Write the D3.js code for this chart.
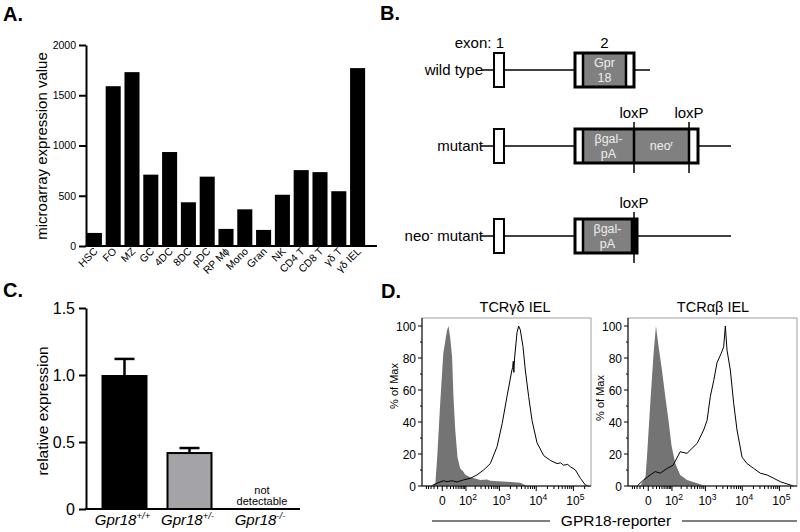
<!DOCTYPE html>
<html><head><meta charset="utf-8">
<script src="https://cdn.jsdelivr.net/npm/d3@7"></script>
<style>body{margin:0;background:#fff}svg{font-family:"Liberation Sans",Arial,Helvetica,sans-serif}</style>
</head><body><svg id="c" width="800" height="532"></svg>
<script>
// ---------- Panel A data ----------
const cellTypes = ["HSC","FO","MZ","GC","4DC","8DC","pDC","RP M\u03D5","Mono","Gran","NK","CD4 T","CD8 T","\u03B3\u03B4 T","\u03B3\u03B4 IEL"];
const microarrayValues = [130,1590,1730,710,935,435,690,170,365,160,510,755,735,545,1770];
const panelATicks = [0,500,1000,1500,2000];

// ---------- Panel B data (schematic units) ----------
const constructNames = ["wild type","mutant","neo^{-} mutant"];
const intronEnds = [156,237,237];
const exon1Span = [0,10];
const exon2Segments = [
  [{from:81,to:89,type:"utr"},{from:89,to:132,type:"cds",label:["Gpr","18"]},{from:132,to:140,type:"utr"}],
  [{from:81,to:89,type:"utr"},{from:89,to:140,type:"cds",label:["\u03B2gal-","pA"]},{from:140,to:195,type:"cds",label:["neo^{r}"]},{from:195,to:204,type:"utr"}],
  [{from:81,to:89,type:"utr"},{from:89,to:138,type:"cds",label:["\u03B2gal-","pA"]},{from:138,to:143,type:"end"}]
];
const loxPSites = [[],[140,195],[140]];
const exonNumbers = [["exon: 1",10],["2",110.5]];

// ---------- Panel C data ----------
const genotypes = ["Gpr18^{+/+}","Gpr18^{+/-}","Gpr18^{-/-}"];
const relExpression = [1.0,0.425,null];
const relError = [0.12,0.03,null];
const panelCTicks = [0,0.5,1.0,1.5];

// ---------- Panel D data: [fluorescence, % of Max] ----------
const histTitles = ["TCR\u03B3\u03B4 IEL","TCR\u03B1\u03B2 IEL"];
const gdControl = [[-33,0],[-16,1.7],[-11,18],[-4,52],[2,83],[10,97],[14,100],[19,93],[25,81],[30,56],[37,35],[47,18],[61,11],[80,9],[94,7],[140,5.5],[175,5],[286,3.8],[447,4],[556,3.3],[900,3],[1615,2.7],[3720,2],[5650,0]];
const gdReporter = [[-27,0],[-12,1.7],[2.5,3.3],[10,2.7],[25,3.3],[44,2.5],[82,3.8],[140,4.8],[226,6.9],[357,10],[556,14],[860,24.6],[1190,39],[1616,56],[2200,72.5],[2300,74],[2400,78],[2480,71],[2600,80],[3030,96],[3350,100],[3720,97.5],[4400,87],[5070,72.5],[6240,56],[7700,41],[10500,27],[15900,19],[24000,16],[36300,14],[45000,14.5],[54700,13],[70000,13.5],[83000,12],[113000,10],[154000,4.8],[210000,0.6],[260000,0]];
const abControl = [[-19,0],[-5.5,5.8],[-2.5,18],[4,51.7],[11.7,83],[18.3,100],[26.9,87],[40,72.5],[56,56],[75,41],[97,25],[130,14],[186,6.9],[300,3.75],[589,1.7],[1000,0]];
const abReporter = [[-30,0],[-10,3.75],[4,6.9],[16.3,9],[33,8],[66,11],[110,13],[186,21.4],[300,20.4],[419,23.5],[589,26.7],[892,35],[1110,41],[1365,56],[1695,66],[2075,77],[2715,83],[3150,87],[3500,100],[3880,85],[4770,72.5],[5880,51.7],[7230,35],[9900,18],[13500,14],[20300,11],[30800,8],[46600,6.9],[70300,4.8],[106000,2.7],[161000,1.25],[243000,0]];
const histTicks = [0,100,1000,10000,100000];
const histTickLabels = ["0","10^{2}","10^{3}","10^{4}","10^{5}"];
const pctTicks = [0,20,40,60,80,100];

const FONT = '"Liberation Sans",Arial,Helvetica,sans-serif';
const svg = d3.select("#c");

function rich(t, str, supSize, shift){
  const re=/\^\{([^}]*)\}/g; let last=0, m, raised=false;
  const add=(s,sup)=>{const ts=t.append("tspan").text(s);
    if(sup){ts.attr("font-size",supSize).attr("dy",-shift);raised=true;}
    else if(raised){ts.attr("dy",shift);raised=false;}};
  while((m=re.exec(str))!==null){ if(m.index>last) add(str.slice(last,m.index),false); add(m[1],true); last=re.lastIndex;}
  if(last<str.length) add(str.slice(last),false);
  return t;
}

// panel letters
[["A.",3,21],["B.",380,20],["C.",3,297],["D.",381,298]].forEach(p=>{
  svg.append("text").attr("x",p[1]).attr("y",p[2]).attr("font-size",20).attr("font-weight","bold").text(p[0]);
});

// ================= Panel A =================
{
  const x = d3.scaleBand().domain(cellTypes).range([85,367]).paddingInner(0.2).paddingOuter(0.1);
  const y = d3.scaleLinear().domain([0,2000]).range([246,45]);
  const g = svg.append("g");
  g.selectAll("rect").data(microarrayValues).join("rect")
    .attr("x",(d,i)=>x(cellTypes[i])).attr("width",x.bandwidth())
    .attr("y",d=>y(d)).attr("height",d=>y(0)-y(d)).attr("fill","#000");
  g.append("g").attr("transform","translate(86,0)")
    .call(d3.axisLeft(y).tickValues(panelATicks).tickSize(7).tickSizeOuter(0).tickPadding(3).tickFormat(d3.format("d")))
    .call(a=>{a.attr("font-family",FONT).attr("font-size",10.5);
      a.select(".domain").attr("stroke-width",2);
      a.selectAll(".tick line").attr("stroke-width",2);});
  g.append("line").attr("x1",85).attr("x2",377).attr("y1",y(0)).attr("y2",y(0)).attr("stroke","#000").attr("stroke-width",2);
  g.selectAll("text.xl").data(cellTypes).join("text").attr("class","xl")
    .attr("transform",d=>`translate(${x(d)+x.bandwidth()/2+4},252) rotate(-45)`)
    .attr("text-anchor","end").attr("font-size",10.5).text(d=>d);
  g.append("text").attr("transform","translate(47,146) rotate(-90)").attr("text-anchor","middle")
    .attr("font-size",15).text("microarray expression value");
}

// ================= Panel B =================
{
  const x = d3.scaleLinear().domain([0,240]).range([494,734]);
  const y = d3.scaleOrdinal().domain(constructNames).range([70,146,236]);
  const g = svg.append("g");
  const H = 17;
  exonNumbers.forEach(e=>{
    g.append("text").attr("x",x(e[1])).attr("y",48).attr("font-size",15)
      .attr("text-anchor", e[0].length>1?"end":"middle").text(e[0]);
  });
  constructNames.forEach((name,i)=>{
    const cy = y(name);
    rich(g.append("text").attr("x",483).attr("y",cy+5).attr("font-size",15).attr("text-anchor","end"), name, 10, 5);
    g.append("line").attr("x1",x(-13)).attr("x2",x(intronEnds[i])).attr("y1",cy).attr("y2",cy).attr("stroke","#000").attr("stroke-width",1.5);
    g.append("rect").attr("x",x(exon1Span[0])).attr("width",x(exon1Span[1])-x(exon1Span[0]))
      .attr("y",cy-H).attr("height",2*H).attr("fill","#fff").attr("stroke","#000").attr("stroke-width",2);
    const segs = exon2Segments[i];
    segs.forEach(s=>{
      g.append("rect").attr("x",x(s.from)).attr("width",x(s.to)-x(s.from)).attr("y",cy-H).attr("height",2*H)
        .attr("fill", s.type==="utr"?"#fff":(s.type==="end"?"#000":"#808080"));
      if(s.label){
        const cx=(x(s.from)+x(s.to))/2;
        if(s.label.length===2){
          s.label.forEach((l,k)=>g.append("text").attr("x",cx).attr("y",cy-3+k*15).attr("text-anchor","middle")
            .attr("font-size",12.5).attr("fill","#eee").text(l));
        } else {
          rich(g.append("text").attr("x",cx).attr("y",cy+4).attr("text-anchor","middle").attr("font-size",12.5).attr("fill","#eee"), s.label[0], 8, 4);
        }
      }
    });
    segs.slice(1).forEach(s=>{
      g.append("line").attr("x1",x(s.from)).attr("x2",x(s.from)).attr("y1",cy-H).attr("y2",cy+H).attr("stroke","#000").attr("stroke-width",2.5);
    });
    const e0=segs[0].from, e1=segs[segs.length-1].to;
    g.append("rect").attr("x",x(e0)).attr("width",x(e1)-x(e0)).attr("y",cy-H).attr("height",2*H)
      .attr("fill","none").attr("stroke","#000").attr("stroke-width",3);
    loxPSites[i].forEach(p=>{
      g.append("line").attr("x1",x(p)).attr("x2",x(p)).attr("y1",cy-24).attr("y2",cy+27).attr("stroke","#000").attr("stroke-width",1.5);
      g.append("text").attr("x",x(p)).attr("y",cy-28).attr("text-anchor","middle").attr("font-size",15).text("loxP");
    });
  });
}

// ================= Panel C =================
{
  const y = d3.scaleLinear().domain([0,1.5]).range([509,308]);
  const xc = d3.scaleOrdinal().domain(genotypes).range([124.5,189.5,262]);
  const bw = 46;
  const g = svg.append("g");
  const fills = ["#000","#a4a4a8"];
  genotypes.forEach((gt,i)=>{
    const v = relExpression[i];
    if(v===null) return;
    const e = relError[i], cx = xc(gt);
    g.append("line").attr("x1",cx).attr("x2",cx).attr("y1",y(v)).attr("y2",y(v+e)).attr("stroke","#000").attr("stroke-width",2.5);
    g.append("line").attr("x1",cx-10).attr("x2",cx+10).attr("y1",y(v+e)).attr("y2",y(v+e)).attr("stroke","#000").attr("stroke-width",2.5);
    g.append("rect").attr("x",cx-bw/2+1).attr("width",bw-2).attr("y",y(v)+1).attr("height",y(0)-y(v)-1)
      .attr("fill",fills[i]).attr("stroke","#000").attr("stroke-width",2);
  });
  g.append("g").attr("transform","translate(86,0)")
    .call(d3.axisLeft(y).tickValues(panelCTicks).tickSize(7).tickSizeOuter(0).tickPadding(4).tickFormat(d=>d===0?"0":d3.format(".1f")(d)))
    .call(a=>{a.attr("font-family",FONT).attr("font-size",16);
      a.select(".domain").attr("stroke-width",2);
      a.selectAll(".tick line").attr("stroke-width",2);});
  g.append("line").attr("x1",85).attr("x2",300).attr("y1",y(0)).attr("y2",y(0)).attr("stroke","#000").attr("stroke-width",2);
  genotypes.forEach(gt=>{
    rich(g.append("text").attr("x",xc(gt)-2).attr("y",525).attr("text-anchor","middle").attr("font-size",15).attr("font-style","italic"), gt, 9.5, 6);
  });
  const nd = xc(genotypes[2]);
  g.append("text").attr("x",nd).attr("y",494).attr("text-anchor","middle").attr("font-size",11).text("not");
  g.append("text").attr("x",nd).attr("y",505).attr("text-anchor","middle").attr("font-size",11).text("detectable");
  g.append("text").attr("transform","translate(48,411) rotate(-90)").attr("text-anchor","middle").attr("font-size",15.5).text("relative expression");
}

// ================= Panel D =================
function histPanel(x0, title, titleX, control, reporter, ylabX, ylabY){
  const x = d3.scaleSymlog().constant(30).domain([-75,262144]).range([x0,x0+167]);
  const y = d3.scaleLinear().domain([0,105]).range([486,318]);
  const g = svg.append("g");
  g.append("path").datum(control).attr("d",d3.area().x(d=>x(d[0])).y0(y(0)).y1(d=>y(d[1]))).attr("fill","#747474");
  g.append("path").datum(reporter).attr("d",d3.line().x(d=>x(d[0])).y(d=>y(d[1]))).attr("fill","none").attr("stroke","#000").attr("stroke-width",1);
  g.append("rect").attr("x",x0).attr("y",318).attr("width",169).attr("height",168).attr("fill","none").attr("stroke","#a0a0a0").attr("stroke-width",1);
  g.append("line").attr("x1",x0).attr("x2",x0).attr("y1",318).attr("y2",486).attr("stroke","#000").attr("stroke-width",1);
  g.append("line").attr("x1",x0).attr("x2",x0+169).attr("y1",486).attr("y2",486).attr("stroke","#000").attr("stroke-width",1);
  pctTicks.forEach(t=>{
    g.append("line").attr("x1",x0-4).attr("x2",x0).attr("y1",y(t)).attr("y2",y(t)).attr("stroke","#000");
    g.append("text").attr("x",x0-6).attr("y",y(t)+4.5).attr("text-anchor","end").attr("font-size",12).text(t);
    if(t<100) g.append("line").attr("x1",x0-2).attr("x2",x0).attr("y1",y(t+10)).attr("y2",y(t+10)).attr("stroke","#000");
  });
  const minor=[];
  for(let v=-50; v<100; v+=10) if(v!==0) minor.push(v);
  for(let k=2;k<=5;k++) for(let m=2;m<=9;m++){ const v=m*Math.pow(10,k); if(v<=262144) minor.push(v); }
  minor.forEach(v=>g.append("line").attr("x1",x(v)).attr("x2",x(v)).attr("y1",486).attr("y2",489).attr("stroke","#000"));
  histTicks.forEach((t,i)=>{
    g.append("line").attr("x1",x(t)).attr("x2",x(t)).attr("y1",486).attr("y2",491).attr("stroke","#000");
    rich(g.append("text").attr("x",x(t)+(i?2:0)).attr("y",505).attr("text-anchor","middle").attr("font-size",12), histTickLabels[i], 8.5, 5);
  });
  g.append("text").attr("x",titleX).attr("y",312).attr("text-anchor","middle").attr("font-size",14.5).text(title);
  g.append("text").attr("transform",`translate(${ylabX},${ylabY}) rotate(-90)`).attr("text-anchor","middle").attr("font-size",11).text("% of Max");
}
histPanel(422, histTitles[0], 515, gdControl, gdReporter, 398, 386);
histPanel(628, histTitles[1], 713, abControl, abReporter, 604, 398);
svg.append("line").attr("x1",432).attr("x2",550).attr("y1",521).attr("y2",521).attr("stroke","#000").attr("stroke-width",1.2);
svg.append("line").attr("x1",682).attr("x2",797).attr("y1",521).attr("y2",521).attr("stroke","#000").attr("stroke-width",1.2);
svg.append("text").attr("x",616).attr("y",526).attr("text-anchor","middle").attr("font-size",15.5).text("GPR18-reporter");
</script></body></html>
